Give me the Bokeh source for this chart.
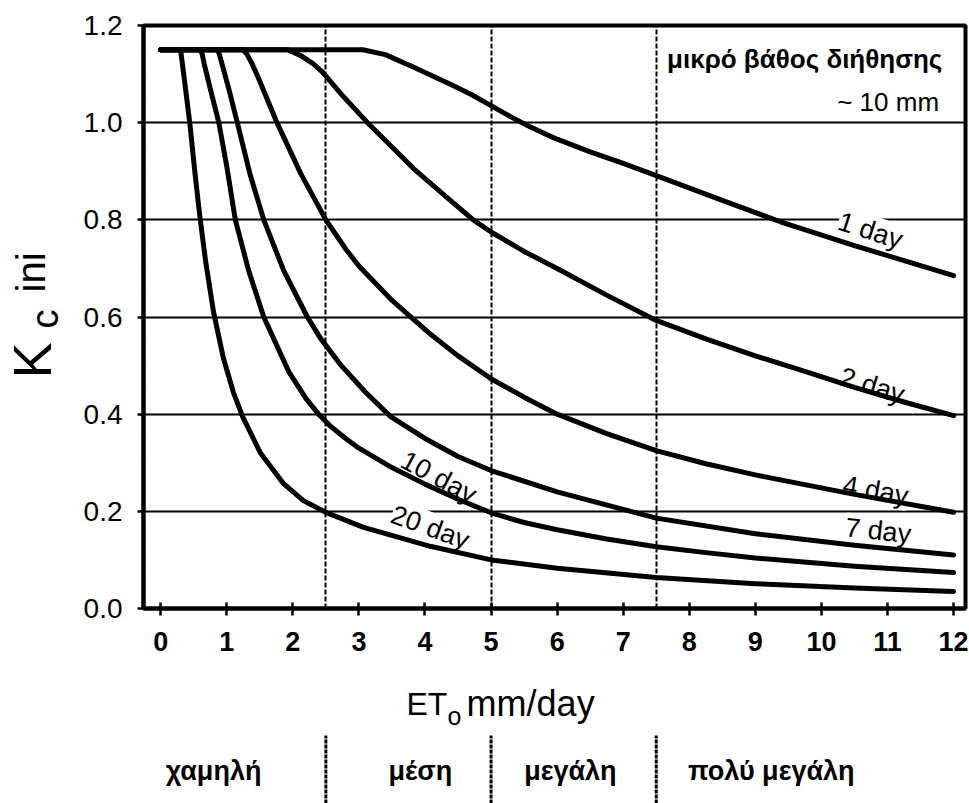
import math
from bokeh.plotting import figure
from bokeh.layouts import column, row
from bokeh.models import Range1d, FixedTicker, PrintfTickFormatter
from bokeh.core.properties import value
from bokeh.embed import file_html
from bokeh.resources import INLINE

FONT = "Liberation Sans"

# ---------------- data ----------------
et_1 = [0, 3.06, 3.4, 3.83, 4.4, 4.7, 5.0, 5.3, 5.55, 5.8, 6.0, 6.5, 7.0, 7.5, 8.5, 9.38, 10.5, 11.25, 12.0]
kc_1 = [1.15, 1.15, 1.14, 1.114, 1.078, 1.058, 1.035, 1.012, 0.994, 0.978, 0.966, 0.94, 0.916, 0.891, 0.84, 0.796, 0.747, 0.716, 0.685]

et_2 = [0, 1.92, 2.12, 2.3, 2.45, 2.6, 2.75, 2.9, 3.13, 3.5, 3.83, 4.3, 4.73, 5.0, 5.5, 6.0, 6.75, 7.5, 8.25, 9.0, 9.75, 10.5, 11.25, 12.0]
kc_2 = [1.15, 1.15, 1.138, 1.122, 1.104, 1.08, 1.056, 1.034, 1.0, 0.95, 0.905, 0.85, 0.80, 0.775, 0.735, 0.70, 0.645, 0.593, 0.555, 0.52, 0.488, 0.455, 0.425, 0.397]

et_4 = [0, 1.24, 1.30, 1.38, 1.47, 1.76, 2.12, 2.5, 2.8, 3.0, 3.48, 4.08, 4.5, 5.0, 5.5, 6.0, 6.75, 7.5, 8.25, 9.0, 10.5, 12.0]
kc_4 = [1.15, 1.15, 1.142, 1.122, 1.095, 1.0, 0.895, 0.80, 0.74, 0.705, 0.637, 0.565, 0.52, 0.473, 0.435, 0.40, 0.36, 0.325, 0.298, 0.275, 0.235, 0.198]

et_7 = [0, 0.86, 0.89, 0.93, 1.03, 1.16, 1.35, 1.56, 1.86, 2.22, 2.42, 2.72, 3.1, 3.48, 4.0, 4.5, 5.0, 6.0, 7.5, 9.0, 10.5, 12.0]
kc_7 = [1.15, 1.15, 1.14, 1.12, 1.07, 1.0, 0.895, 0.80, 0.696, 0.60, 0.556, 0.502, 0.445, 0.395, 0.35, 0.313, 0.284, 0.24, 0.186, 0.154, 0.13, 0.11]

et_10 = [0, 0.60, 0.63, 0.66, 0.75, 0.88, 1.0, 1.13, 1.33, 1.56, 1.94, 2.2, 2.39, 2.57, 2.8, 3.0, 3.5, 4.0, 4.5, 5.0, 5.5, 6.0, 6.75, 7.5, 8.25, 9.0, 10.5, 12.0]
kc_10 = [1.15, 1.15, 1.14, 1.12, 1.07, 1.0, 0.91, 0.80, 0.696, 0.60, 0.487, 0.432, 0.40, 0.375, 0.35, 0.33, 0.29, 0.256, 0.225, 0.197, 0.177, 0.162, 0.143, 0.127, 0.115, 0.104, 0.087, 0.074]

et_20 = [0, 0.30, 0.33, 0.44, 0.52, 0.59, 0.68, 0.80, 0.95, 1.1, 1.24, 1.51, 1.86, 2.16, 2.5, 3.07, 3.59, 4.08, 5.0, 6.0, 7.5, 9.0, 10.5, 12.0]
kc_20 = [1.15, 1.15, 1.12, 1.0, 0.895, 0.81, 0.715, 0.61, 0.515, 0.445, 0.395, 0.32, 0.257, 0.222, 0.198, 0.167, 0.147, 0.128, 0.10, 0.083, 0.064, 0.051, 0.042, 0.035]

curve_et = [et_1, et_2, et_4, et_7, et_10, et_20]
curve_kc = [kc_1, kc_2, kc_4, kc_7, kc_10, kc_20]

curve_names = ["1 day", "2 day", "4 day", "7 day", "10 day", "20 day"]
name_x = [10.74, 10.77, 10.82, 10.86, 4.21, 4.08]
name_y = [0.778, 0.459, 0.243, 0.160, 0.270, 0.167]
name_angle_deg = [-18, -17, -10, -6, -28, -20]

x_ticks = [0, 1, 2, 3, 4, 5, 6, 7, 8, 9, 10, 11, 12]
y_ticks = [0.0, 0.2, 0.4, 0.6, 0.8, 1.0, 1.2]
y_minor = [0.05, 0.1, 0.15, 0.25, 0.3, 0.35, 0.45, 0.5, 0.55, 0.65, 0.7, 0.75,
           0.85, 0.9, 0.95, 1.05, 1.1, 1.15]
y_grid = [0.2, 0.4, 0.6, 0.8, 1.0]

boundaries = [2.5, 5.0, 7.5]
categories = ["χαμηλή", "μέση", "μεγάλη", "πολύ μεγάλη"]
category_x = [0.80, 3.93, 6.20, 9.24]

note_lines = ["μικρό βάθος διήθησης", "~ 10 mm"]

# ---------------- layout sizes (px) ----------------
LEFT_W = 70
BL, BR, BT, BB = 73, 4, 25, 60
FW, FH = 822, 583
TOP_H = BT + FH + BB          # 668
BOT_H = 803 - TOP_H           # 135

# ---------------- main chart ----------------
p = figure(frame_width=FW, frame_height=FH,
           x_range=Range1d(-0.26, 12.18), y_range=Range1d(0, 1.2),
           output_backend="svg", toolbar_location=None,
           min_border_left=BL, min_border_right=BR, min_border_top=BT, min_border_bottom=BB)
p.background_fill_color = "white"
p.border_fill_color = "white"
p.outline_line_color = "black"
p.outline_line_width = 4

p.xaxis.ticker = FixedTicker(ticks=x_ticks)
p.yaxis.ticker = FixedTicker(ticks=y_ticks, minor_ticks=y_minor)
p.yaxis.formatter = PrintfTickFormatter(format="%.1f")

for ax in (p.xaxis[0], p.yaxis[0]):
    ax.axis_line_width = 4
    ax.axis_line_color = "black"
    ax.major_tick_line_color = "black"
    ax.major_tick_line_width = 2.5
    ax.major_label_text_font = FONT
    ax.major_label_text_color = "black"

p.xaxis.major_tick_in = 6
p.xaxis.major_tick_out = 7
p.xaxis.minor_tick_line_color = None
p.xaxis.major_label_text_font_size = "27px"
p.xaxis.major_label_text_font_style = "bold"
p.xaxis.major_label_standoff = 16

p.yaxis.major_tick_in = 0
p.yaxis.major_tick_out = 6
p.yaxis.minor_tick_in = 2
p.yaxis.minor_tick_out = 2
p.yaxis.minor_tick_line_color = "black"
p.yaxis.minor_tick_line_width = 1.5
p.yaxis.major_label_text_font_size = "28px"
p.yaxis.major_label_standoff = 15

p.xgrid.ticker = FixedTicker(ticks=boundaries)
p.xgrid.grid_line_color = "black"
p.xgrid.grid_line_width = 2
p.xgrid.grid_line_dash = "5 2"
p.ygrid.ticker = FixedTicker(ticks=y_grid)
p.ygrid.grid_line_color = "black"
p.ygrid.grid_line_width = 1.8

# curve labels (white background hides the grid, curves drawn over them)
p.text(x=name_x, y=name_y, text=curve_names,
       angle=[math.radians(a) for a in name_angle_deg],
       text_font=value(FONT), text_font_size="27px", text_color="black",
       text_align="center", text_baseline="middle",
       background_fill_color="white")

for xs, ys in zip(curve_et, curve_kc):
    p.line(xs, ys, line_color="black", line_width=5, line_cap="round", line_join="round")

# note, top right
p.text(x=[11.83], y=[1.132], text=[note_lines[0]], text_font=value(FONT),
       text_font_size="26px", text_font_style="bold", text_color="black",
       text_align="right", text_baseline="alphabetic")
p.text(x=[11.78], y=[1.042], text=[note_lines[1]], text_font=value(FONT),
       text_font_size="26px", text_color="black",
       text_align="right", text_baseline="alphabetic")

# ---------------- left strip: y title "Kc ini" (pixel coordinates, y up) ----------------
pk = figure(width=LEFT_W, height=TOP_H, x_range=Range1d(0, LEFT_W), y_range=Range1d(0, TOP_H),
            output_backend="svg", toolbar_location=None, x_axis_type=None, y_axis_type=None,
            min_border_left=0, min_border_right=0, min_border_top=0, min_border_bottom=0)
pk.grid.visible = False
pk.outline_line_color = None
pk.background_fill_color = "white"
pk.border_fill_color = "white"
ytitle_parts = ["K", "c", "ini"]
ytitle_x = [31, 44, 30]
ytitle_y = [TOP_H - 378, TOP_H - 328, TOP_H - 292]
ytitle_size = ["54px", "38px", "40px"]
for t, xx, yy, fs in zip(ytitle_parts, ytitle_x, ytitle_y, ytitle_size):
    pk.text(x=[xx], y=[yy], text=[t], angle=math.pi / 2, text_font=value(FONT),
            text_font_size=fs, text_color="black", text_align="left", text_baseline="middle")

# ---------------- lower strip: x title and classes (y = px above page bottom) ----------------
p2 = figure(frame_width=FW, frame_height=BOT_H,
            x_range=p.x_range, y_range=Range1d(0, BOT_H),
            output_backend="svg", toolbar_location=None,
            x_axis_type=None, y_axis_type=None,
            min_border_left=BL, min_border_right=BR, min_border_top=0, min_border_bottom=0)
p2.grid.visible = False
p2.outline_line_color = None
p2.background_fill_color = "white"
p2.border_fill_color = "white"

p2.text(x=[3.72], y=[100], text=["ET"], text_font=value(FONT), text_font_size="32px",
        text_color="black", text_align="left", text_baseline="alphabetic")
p2.text(x=[4.34], y=[88], text=["o"], text_font=value(FONT), text_font_size="25px",
        text_color="black", text_align="left", text_baseline="alphabetic")
p2.text(x=[4.63], y=[100], text=["mm/day"], text_font=value(FONT), text_font_size="36px",
        text_color="black", text_align="left", text_baseline="alphabetic")

p2.segment(x0=boundaries, y0=[0] * len(boundaries), x1=boundaries, y1=[68] * len(boundaries),
           line_color="black", line_width=3, line_dash="4 1")
p2.text(x=category_x, y=[33] * len(categories), text=categories, text_font=value(FONT),
        text_font_size="27px", text_font_style="bold", text_color="black",
        text_align="center", text_baseline="alphabetic")

layout = row(pk, column(p, p2, spacing=0), spacing=0)
open("out.html", "w").write(file_html(layout, INLINE))
